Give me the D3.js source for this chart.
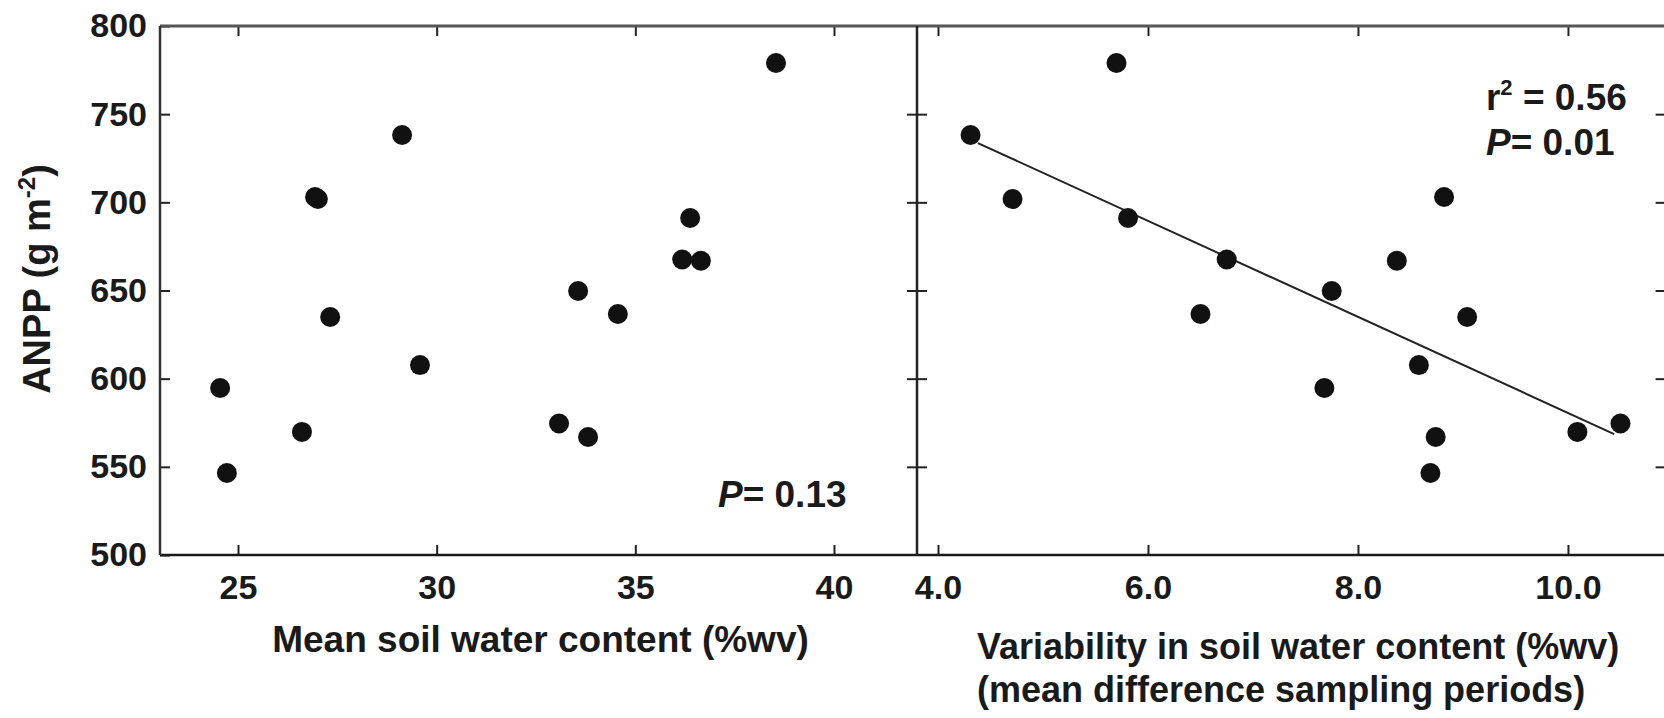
<!DOCTYPE html>
<html>
<head>
<meta charset="utf-8">
<script src="https://cdn.jsdelivr.net/npm/d3@7"></script>
<style>
  html, body { margin: 0; padding: 0; background: #fff; }
  svg { display: block; }
  text { font-family: "Liberation Sans", Arial, Helvetica, sans-serif; fill: #1a1a1a; }
</style>
</head>
<body>
<svg id="chart" width="1664" height="718"></svg>
<script>
// ---------- data ----------
const anpp = [779.0, 738.2, 703.0, 701.9, 691.1, 667.6, 666.9, 649.7, 636.7, 635.0, 607.7, 594.7, 574.6, 569.8, 566.9, 546.5];
const meanSWC = [38.54, 29.13, 26.94, 27.01, 36.38, 36.18, 36.65, 33.56, 34.56, 27.32, 29.58, 24.55, 33.08, 26.61, 33.81, 24.72];
const variabilitySWC = [5.70, 4.31, 8.82, 4.71, 5.81, 6.75, 8.37, 7.75, 6.50, 9.04, 8.58, 7.68, 10.50, 10.09, 8.74, 8.69];
const fitX = [4.38, 10.44];
const fitY = [733.6, 568.6];
const yTicks = [500, 550, 600, 650, 700, 750, 800];
const xTicksLeft = [25, 30, 35, 40];
const xTicksRight = [4, 6, 8, 10];
const xTickLabelsRight = ["4.0", "6.0", "8.0", "10.0"];

// ---------- scales ----------
const svg = d3.select("#chart");
const y = d3.scaleLinear().domain([500, 800]).range([555, 26]);
const xL = d3.scaleLinear().domain([23.037, 42.089]).range([160, 917]);
const xR = d3.scaleLinear().domain([3.8, 10.93]).range([917, 1665.6]);

const TICK = 10;
const tickFont = 34;

function styleAxis(g) {
  g.select(".domain").remove();
  g.selectAll(".tick line").attr("stroke", "#222").attr("stroke-width", 2);
  g.selectAll(".tick text").attr("font-size", tickFont).attr("font-weight", "bold").attr("fill", "#1a1a1a");
}

// ---------- left panel axes ----------
svg.append("g").attr("transform", `translate(160,0)`)
  .call(d3.axisLeft(y).tickValues(yTicks).tickSizeInner(-TICK).tickSizeOuter(0).tickPadding(13).tickFormat(d3.format("d")))
  .call(styleAxis);
svg.append("g").attr("transform", `translate(917,0)`)
  .call(d3.axisRight(y).tickValues(yTicks.slice(1, -1)).tickSizeInner(-TICK).tickSizeOuter(0).tickFormat(""))
  .call(styleAxis);
svg.append("g").attr("transform", `translate(0,555)`)
  .call(d3.axisBottom(xL).tickValues(xTicksLeft).tickSizeInner(-TICK).tickSizeOuter(0).tickPadding(20).tickFormat(d3.format("d")))
  .call(styleAxis);
svg.append("g").attr("transform", `translate(0,26)`)
  .call(d3.axisTop(xL).tickValues(xTicksLeft).tickSizeInner(-TICK).tickSizeOuter(0).tickFormat(""))
  .call(styleAxis);

// ---------- right panel axes ----------
svg.append("g").attr("transform", `translate(917,0)`)
  .call(d3.axisLeft(y).tickValues(yTicks.slice(1, -1)).tickSizeInner(-TICK).tickSizeOuter(0).tickFormat(""))
  .call(styleAxis);
svg.append("g").attr("transform", `translate(1665.6,0)`)
  .call(d3.axisRight(y).tickValues(yTicks.slice(1, -1)).tickSizeInner(-TICK).tickSizeOuter(0).tickFormat(""))
  .call(styleAxis);
svg.append("g").attr("transform", `translate(0,555)`)
  .call(d3.axisBottom(xR).tickValues(xTicksRight).tickSizeInner(-TICK).tickSizeOuter(0).tickPadding(20)
    .tickFormat((d, i) => xTickLabelsRight[i]))
  .call(styleAxis);
svg.append("g").attr("transform", `translate(0,26)`)
  .call(d3.axisTop(xR).tickValues(xTicksRight).tickSizeInner(-TICK).tickSizeOuter(0).tickFormat(""))
  .call(styleAxis);

// ---------- frames ----------
const frame = svg.append("g").attr("fill", "none");
frame.append("line").attr("x1", xL.range()[0]).attr("x2", 1664).attr("y1", y(800)).attr("y2", y(800))
  .attr("stroke", "#555").attr("stroke-width", 3);
frame.append("line").attr("x1", xL.range()[0]).attr("x2", 1664).attr("y1", y(500)).attr("y2", y(500))
  .attr("stroke", "#1a1a1a").attr("stroke-width", 2.5);
frame.append("line").attr("x1", xL.range()[0]).attr("x2", xL.range()[0]).attr("y1", y(800)).attr("y2", y(500))
  .attr("stroke", "#333").attr("stroke-width", 2.5);
frame.append("line").attr("x1", xL.range()[1]).attr("x2", xL.range()[1]).attr("y1", y(800)).attr("y2", y(500))
  .attr("stroke", "#222").attr("stroke-width", 2.5);

// ---------- regression line ----------
svg.append("path")
  .datum(fitX.map((d, i) => [d, fitY[i]]))
  .attr("fill", "none").attr("stroke", "#222").attr("stroke-width", 2)
  .attr("d", d3.line().x(d => xR(d[0])).y(d => y(d[1])));

// ---------- points ----------
const R = 10;
svg.append("g").selectAll("circle").data(anpp).join("circle")
  .attr("cx", (d, i) => xL(meanSWC[i])).attr("cy", d => y(d)).attr("r", R).attr("fill", "#111");
svg.append("g").selectAll("circle").data(anpp).join("circle")
  .attr("cx", (d, i) => xR(variabilitySWC[i])).attr("cy", d => y(d)).attr("r", R).attr("fill", "#111");

// ---------- annotations ----------
const ann = 37;
const t1 = svg.append("text").attr("x", xL(37.08)).attr("y", y(527.2)).attr("font-size", ann).attr("font-weight", "bold");
t1.append("tspan").attr("font-style", "italic").text("P");
t1.append("tspan").text("= 0.13");

const t2 = svg.append("text").attr("x", xR(9.219)).attr("y", y(752.4)).attr("font-size", ann).attr("font-weight", "bold");
t2.append("tspan").text("r");
t2.append("tspan").attr("font-size", 22).attr("dy", -15).text("2");
t2.append("tspan").attr("dy", 15).text(" = 0.56");

const t3 = svg.append("text").attr("x", xR(9.219)).attr("y", y(726.8)).attr("font-size", ann).attr("font-weight", "bold");
t3.append("tspan").attr("font-style", "italic").text("P");
t3.append("tspan").text("= 0.01");

// ---------- axis titles ----------
svg.append("text").attr("x", (xL.range()[0] + xL.range()[1]) / 2 + 2).attr("y", 652)
  .attr("text-anchor", "middle").attr("font-size", 37).attr("font-weight", "bold")
  .text("Mean soil water content (%wv)");

svg.append("text").attr("x", 977).attr("y", 659)
  .attr("font-size", 36).attr("font-weight", "bold")
  .text("Variability in soil water content (%wv)");
svg.append("text").attr("x", 977).attr("y", 702)
  .attr("font-size", 36).attr("font-weight", "bold")
  .text("(mean difference sampling periods)");

const yl = svg.append("text")
  .attr("transform", `translate(50,279) rotate(-90)`)
  .attr("text-anchor", "middle").attr("font-size", 38).attr("font-weight", "bold");
yl.append("tspan").text("ANPP (g m");
yl.append("tspan").attr("font-size", 24).attr("dy", -15).text("-2");
yl.append("tspan").attr("dy", 15).text(")");
</script>
</body>
</html>
